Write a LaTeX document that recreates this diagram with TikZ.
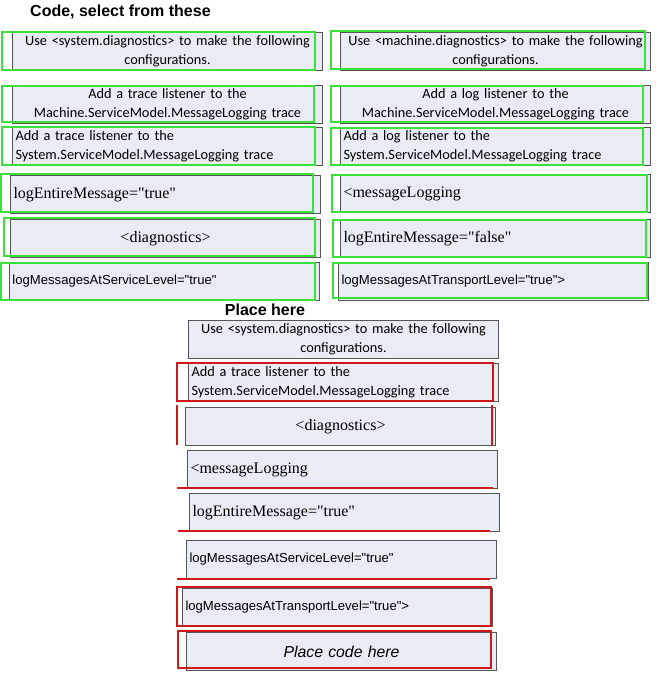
\documentclass[tikz,border=0pt]{standalone}
\usepackage{fontspec}
\newfontfamily\calfont{Carlito}
\newfontfamily\timesfont{Liberation Serif}
\newfontfamily\arialfont{Liberation Sans}
\definecolor{boxfill}{HTML}{E9ECF4}
\definecolor{boxline}{HTML}{555555}
\definecolor{pickgreen}{HTML}{3BE03B}
\definecolor{markred}{HTML}{D01818}

\begin{document}
\begin{tikzpicture}[x=1pt, y=-1pt,
  every node/.style = {anchor=north west, inner xsep=3pt, inner ysep=0pt},
  codebox/.style = {draw=boxline, fill=boxfill, line width=1pt,
    minimum height=38pt, text width=304pt},
  calibri/.style = {font=\calfont\fontsize{14.3}{18.5}\selectfont},
  times/.style = {font=\timesfont\fontsize{16}{18}\selectfont, align=left},
  arial/.style = {font=\arialfont\fontsize{13.1}{15}\selectfont, align=left},
  heading/.style = {font=\arialfont\bfseries\fontsize{16}{18}\selectfont},
  picked/.style = {draw=pickgreen, line width=2pt},
  placed/.style = {draw=markred, line width=1.5pt}]

  \useasboundingbox (0,0) rectangle (660,684);

  % choices
  \node[heading, anchor=west] (codetitle) at (27,12) {Code, select from these};
  \node[codebox, calibri, align=center] (sysdiag) at (12,32)
    {Use <system.diagnostics> to make the following\\configurations.};
  \node[codebox, calibri, align=center] (tracemachine) at (12,85)
    {Add a trace listener to the\\Machine.ServiceModel.MessageLogging trace};
  \node[codebox, calibri, align=left] (tracesystem) at (12,127)
    {Add a trace listener to the\\System.ServiceModel.MessageLogging trace};
  \node[codebox, times] (entiretrue) at (10,175) {logEntireMessage="true"};
  \node[codebox, times, align=center] (diagtag) at (10,219) {<diagnostics>};
  \node[codebox, arial] (servicelvl) at (9,262) {logMessagesAtServiceLevel="true"};

  \node[codebox, calibri, align=center] (machdiag) at (340,32)
    {Use <machine.diagnostics> to make the following\\configurations.};
  \node[codebox, calibri, align=center] (logmachine) at (340,85)
    {Add a log listener to the\\Machine.ServiceModel.MessageLogging trace};
  \node[codebox, calibri, align=left] (logsystem) at (340,127)
    {Add a log listener to the\\System.ServiceModel.MessageLogging trace};
  \node[codebox, times] (msglogging) at (340,174) {<messageLogging};
  \node[codebox, times] (entirefalse) at (340,219) {logEntireMessage="false"};
  \node[codebox, arial] (transportlvl) at (338,262) {logMessagesAtTransportLevel="true">};

  % green marks
  \draw[picked] (2,32) rectangle (315,70);
  \draw[picked] (2,86) rectangle (314,122);
  \draw[picked] (2,127) rectangle (315,165);
  \draw[picked] (1,174) rectangle (313,212);
  \draw[picked] (4,218) rectangle (315,256);
  \draw[picked] (1,263) rectangle (315,300);
  \draw[picked] (331,31) rectangle (645,69);
  \draw[picked] (331,86) rectangle (643,122);
  \draw[picked] (331,128) rectangle (643,165);
  \draw[picked] (332,175) rectangle (647,212);
  \draw[picked] (333,220) rectangle (646,257);
  \draw[picked] (333,263) rectangle (647,298);

  % answer area
  \node[heading, anchor=center] (placetitle) at (265,310) {Place here};
  \node[codebox, calibri, align=center] (slotA) at (188,320)
    {Use <system.diagnostics> to make the following\\configurations.};
  \node[codebox, calibri, align=left] (slotB) at (188,363)
    {Add a trace listener to the\\System.ServiceModel.MessageLogging trace};
  \node[codebox, times, align=center] (slotC) at (185,407) {<diagnostics>};
  \node[codebox, times] (slotD) at (187,450) {<messageLogging};
  \node[codebox, times] (slotE) at (189,493) {logEntireMessage="true"};
  \node[codebox, arial] (slotF) at (186,540) {logMessagesAtServiceLevel="true"};
  \node[codebox, arial] (slotG) at (182,588) {logMessagesAtTransportLevel="true">};
  \node[codebox, font=\arialfont\itshape\fontsize{15.8}{18}\selectfont, align=center]
    (slotH) at (186,632) {Place code here};

  % red marks
  \draw[placed] (177,363) rectangle (493,401);
  \draw[placed] (177,405) -- (177,445);
  \draw[placed] (492,405) -- (492,445);
  \draw[placed] (177,488) -- (493,488);
  \draw[placed] (178,531) -- (490,531);
  \draw[placed] (177,579) -- (490,579);
  \draw[placed] (177,587) rectangle (491,626);
  \draw[placed, line width=2.5pt] (178,631) rectangle (491,668);
\end{tikzpicture}
\end{document}
